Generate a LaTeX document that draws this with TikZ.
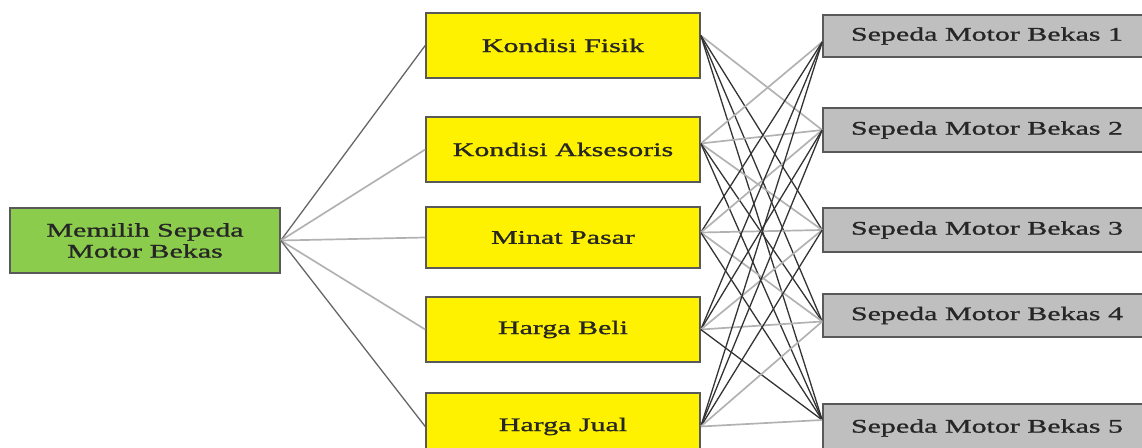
\documentclass[tikz,border=0pt]{standalone}
\usepackage{fontspec}
\setmainfont{Liberation Serif}[FakeStretch=1.56,FakeBold=1.2]
\begin{document}
\begin{tikzpicture}[x=0.5pt,y=-0.5pt,
  box/.style={draw=black!65,line width=0.8pt,inner sep=0pt,align=center,
    font=\fontsize{9.6}{10.5}\selectfont,text=black!85},
  goal/.style={box,fill={rgb,255:red,140;green,204;blue,76},
    minimum width=135pt,minimum height=32.5pt},
  crit/.style={box,fill=yellow,minimum width=137pt},
  alt/.style={box,fill=black!25,minimum width=164pt},
  dk/.style={draw=black!80,line width=0.65pt},
  lt/.style={draw=black!30,line width=0.85pt}]
\useasboundingbox (0,0) rectangle (1142,448);
\clip (0,0) rectangle (1142,448);

% goal
\node[goal] (m) at (145,240.5) {Memilih Sepeda\\Motor Bekas};

% criteria
\node[crit,minimum height=32.5pt] (k1) at (563,45.5)  {Kondisi Fisik};
\node[crit,minimum height=32.5pt] (k2) at (563,149.5) {Kondisi Aksesoris};
\node[crit,minimum height=30.5pt] (k3) at (563,237.5) {Minat Pasar};
\node[crit,minimum height=32.5pt] (k4) at (563,329.5) {Harga Beli};
\node[crit,minimum height=33.5pt] (k5) at (563,426.5) {Harga Jual};

% alternatives
\node[alt,minimum height=21pt] (a1) at (987,36)  {Sepeda Motor Bekas 1};
\node[alt,minimum height=22pt] (a2) at (987,130) {Sepeda Motor Bekas 2};
\node[alt,minimum height=22pt] (a3) at (987,230) {Sepeda Motor Bekas 3};
\node[alt,minimum height=21.5pt] (a4) at (987,315.5) {Sepeda Motor Bekas 4};
\node[alt,minimum height=24pt] (a5) at (987,428) {Sepeda Motor Bekas 5};

% ports on the criteria boxes
\coordinate (p1) at ([yshift=5pt]k1.east);
\coordinate (p2) at ([yshift=3pt]k2.east);
\coordinate (p3) at ([yshift=2.5pt]k3.east);
\coordinate (p4) at (k4.east);
\coordinate (p5) at (k5.east);
% ports on the alternative boxes
\coordinate (q1) at ([yshift=-3pt]a1.west);
\coordinate (q2) at (a2.west);
\coordinate (q3) at (a3.west);
\coordinate (q4) at ([yshift=-3pt]a4.west);
\coordinate (q5) at ([yshift=4pt]a5.west);

% goal to criteria
\draw[dk,draw=black!60] (m.east) -- (k1.west);
\draw[lt] (m.east) -- (k2.west);
\draw[lt] (m.east) -- (k3.west);
\draw[lt] (m.east) -- (k4.west);
\draw[dk,draw=black!60] (m.east) -- (k5.west);

% criteria to alternatives
\draw[lt] (p1) -- (q2);
\draw[dk] (p1) -- (q3);
\draw[dk] (p1) -- (q4);
\draw[dk] (p1) -- (q5);

\draw[lt] (p2) -- (q1);
\draw[lt] (p2) -- (q2);
\draw[lt] (p2) -- (q3);
\draw[dk] (p2) -- (q4);
\draw[dk] (p2) -- (q5);

\draw[dk] (p3) -- (q1);
\draw[lt] (p3) -- (q2);
\draw[lt] (p3) -- (q3);
\draw[lt] (p3) -- (q4);
\draw[dk] (p3) -- (q5);

\draw[dk] (p4) -- (q1);
\draw[dk] (p4) -- (q2);
\draw[lt] (p4) -- (q3);
\draw[lt] (p4) -- (q4);
\draw[dk] (p4) -- (q5);

\draw[dk] (p5) -- (q1);
\draw[dk] (p5) -- (q2);
\draw[dk] (p5) -- (q3);
\draw[lt] (p5) -- (q4);
\draw[lt] (p5) -- (q5);
\end{tikzpicture}
\end{document}
